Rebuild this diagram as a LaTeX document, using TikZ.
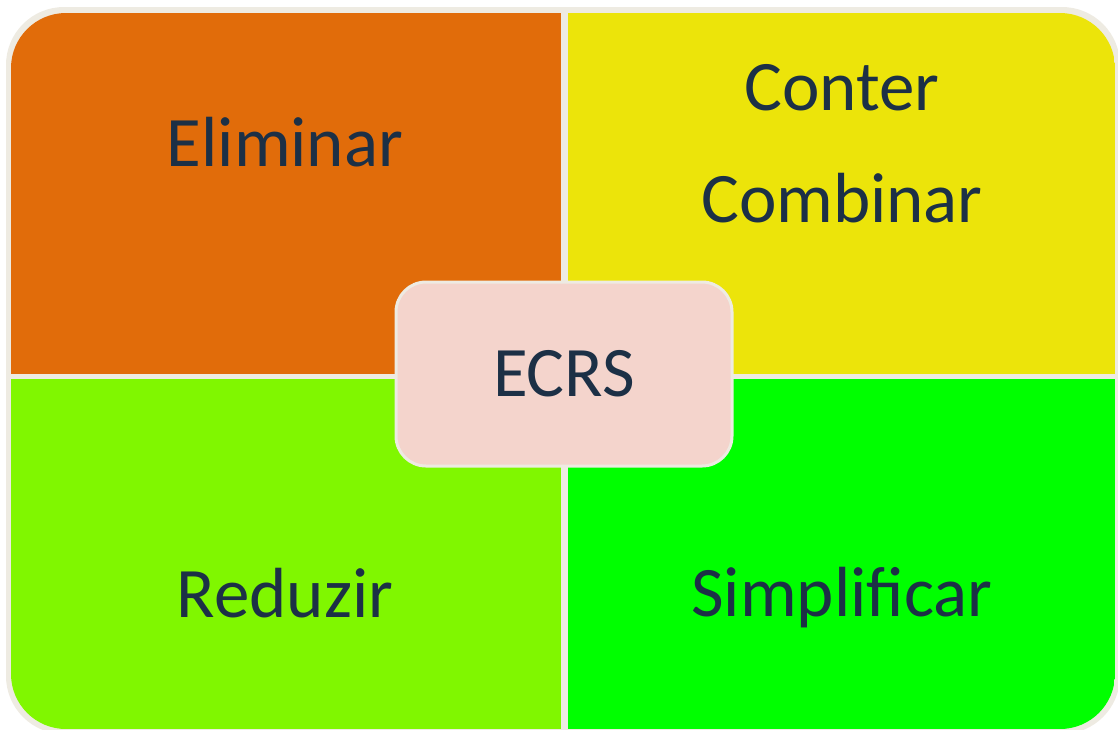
\documentclass[tikz,border=0pt]{standalone}
\usepackage{fontspec}
\setmainfont{Carlito}
\usepackage{tikz}

\definecolor{ecrsOrange}{RGB}{225,108,10}
\definecolor{ecrsYellow}{RGB}{236,228,10}
\definecolor{ecrsLime}{RGB}{128,247,0}
\definecolor{ecrsGreen}{RGB}{0,255,0}
\definecolor{ecrsPink}{RGB}{244,212,204}
\definecolor{ecrsCream}{RGB}{238,235,226}
\definecolor{ecrsText}{RGB}{28,48,70}

\tikzset{
    label/.style={text=ecrsText, font=\fontsize{71}{112}\selectfont, align=center},
}

\begin{document}
\begin{tikzpicture}[x=1pt,y=-1pt]
        \useasboundingbox (0,0) rectangle (1118,729);
        \clip (0,0) rectangle (1118,729);
        \fill[ecrsCream] (6,7) [rounded corners=58pt] rectangle (1120,734);
        \begin{scope}
            \clip[rounded corners=55pt] (11,13) rectangle (1115,729);
            \fill[ecrsOrange] (11,13) rectangle (561,374);
            \fill[ecrsYellow] (568,13) rectangle (1115,374);
            \fill[ecrsLime] (11,379) rectangle (561,729);
            \fill[ecrsGreen] (568,379) rectangle (1115,729);
        \end{scope}
        \node[label, anchor=base] (elim) at (285,166) {Eliminar};
        \node[label] (comb) at (842,144) {Conter\\Combinar};
        \node[label, anchor=base] (redu) at (285,617) {Reduzir};
        \node[label, anchor=base] (simp) at (842,616) {Simplificar};
        \node[label, fill=ecrsPink, draw=ecrsCream, line width=3pt, rounded corners=30pt,
              minimum width=336pt, minimum height=184pt] (ecrs) at (564,374) {ECRS};
    \end{tikzpicture}
\end{document}
